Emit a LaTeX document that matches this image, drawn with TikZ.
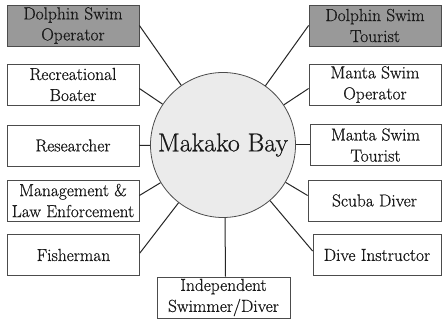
\documentclass[tikz,border=0pt]{standalone}
\usepackage{fontspec}
\newfontfamily\lmb{Latin Modern Roman}[UprightFeatures={FakeBold=0.6}]
\begin{document}
\begin{tikzpicture}[x=1pt,y=1pt,
  actor/.style={draw=black!70,line width=0.8pt,fill=white,minimum height=41pt,inner sep=0pt,align=center,
    font=\lmb\fontsize{17.4}{21}\selectfont,text=black!90},
  graybox/.style={actor,fill=black!40},
  link/.style={draw=black!85,line width=1pt}]
\useasboundingbox (0,0) rectangle (442,324);
\fill[white] (0,0) rectangle (442,324);
% centre
\node[circle,draw=black!70,line width=0.8pt,fill=black!8,minimum size=145pt,inner sep=0pt,
  font=\lmb\fontsize{25.8}{28}\selectfont,text=black!90] (bay) at (223,179) {Makako Bay};
% left
\node[graybox,minimum width=132pt] (dso) at (73,298.5) {Dolphin Swim\\Operator};
\node[actor,minimum width=132pt] (rb) at (73,239.5) {Recreational\\Boater};
\node[actor,minimum width=132pt] (res) at (73,178.5) {Researcher};
\node[actor,minimum width=132pt] (mle) at (73,123.5) {Management \&\\Law Enforcement};
\node[actor,minimum width=132pt] (fis) at (73.5,69) {Fisherman};
% bottom
\node[actor,minimum width=133pt] (isd) at (223.5,26.5) {Independent\\Swimmer/Diver};
% right
\node[graybox,minimum width=132pt] (dst) at (375,298.5) {Dolphin Swim\\Tourist};
\node[actor,minimum width=132pt] (mso) at (375,239.5) {Manta Swim\\Operator};
\node[actor,minimum width=131pt] (mst) at (375.5,179) {Manta Swim\\Tourist};
\node[actor,minimum width=133pt] (scu) at (374.5,123.5) {Scuba Diver};
\node[actor,minimum width=128pt] (din) at (377,69) {Dive Instructor};
% connectors
\draw[link] (dso.east) -- (bay);
\draw[link] ([yshift=-4pt]rb.east) -- (bay);
\draw[link] (res.east) -- (bay);
\draw[link] ([yshift=5pt]mle.east) -- (bay);
\draw[link] ([yshift=2pt]fis.east) -- (bay);
\draw[link] ([xshift=2pt]isd.north) -- ([xshift=2pt]bay.south);
\draw[link] (dst.west) -- (bay);
\draw[link] ([yshift=-4pt]mso.west) -- (bay);
\draw[link] (mst.west) -- (bay);
\draw[link] ([yshift=5pt]scu.west) -- (bay);
\draw[link] ([yshift=4pt]din.west) -- (bay);
\end{tikzpicture}
\end{document}
